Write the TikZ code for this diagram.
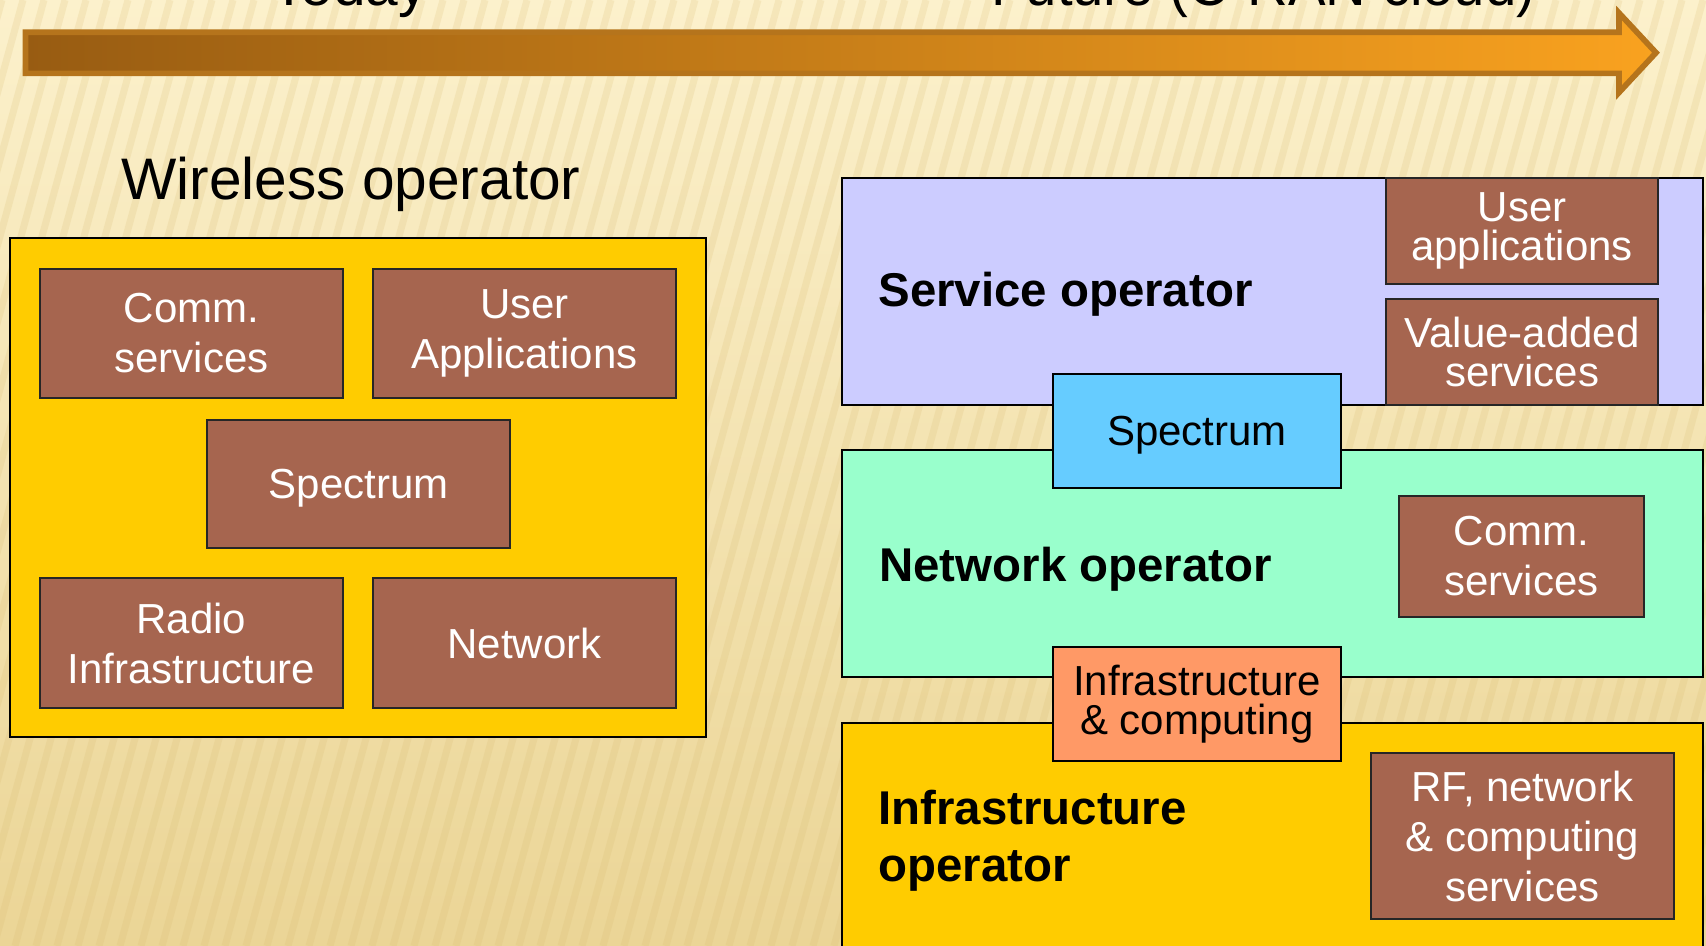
\documentclass[tikz,border=0pt]{standalone}
\usepackage{fontspec}
\setmainfont{Liberation Sans}
\newfontfamily\narrowfont{Liberation Sans}[FakeStretch=0.96]
\usetikzlibrary{fit}

\definecolor{bgtop}{HTML}{FCF1CC}
\definecolor{bgbot}{HTML}{EBD596}
\definecolor{stripe}{HTML}{D6B86C}
\definecolor{arrowedge}{HTML}{B5741C}
\definecolor{arrowdark}{HTML}{985C12}
\definecolor{arrowlight}{HTML}{F9A21F}
\definecolor{gold}{HTML}{FFCC00}
\definecolor{brick}{HTML}{A6654F}
\definecolor{lavender}{HTML}{CCCCFF}
\definecolor{mint}{HTML}{99FFCC}
\definecolor{sky}{HTML}{66CCFF}
\definecolor{salmon}{HTML}{FF9966}

\tikzset{
  boxsize/.style 2 args={minimum width={#1*0.5pt}, minimum height={#2*0.5pt}},
  panel/.style={draw=black, line width=1pt, inner sep=0pt},
  brickbox/.style={draw=black!85, line width=1.2pt, fill=brick, text=white,
    inner sep=0pt, align=center, font=\fontsize{21}{25}\selectfont},
  layerbox/.style={draw=black, line width=1.2pt, inner sep=0pt, align=center,
    font=\fontsize{21}{25}\selectfont},
  tightlines/.style={font=\fontsize{21}{19.75}\selectfont},
  oneline/.style={text depth=0pt},
  rolelabel/.style={inner sep=0pt, align=left,
    font=\fontsize{23.7}{28.5}\selectfont\bfseries},
  heading/.style={inner sep=0pt, font=\fontsize{29.3}{34}\selectfont},
}

\begin{document}
\begin{tikzpicture}[x=0.5pt, y=-0.5pt]
\useasboundingbox (0,0) rectangle (1706,946);
\clip (0,0) rectangle (1706,946);

% striped paper background
\shade[top color=bgtop, bottom color=bgbot] (0,0) rectangle (1706,946);
\foreach \s in {-300,-279,...,1800}
  \draw[stripe, opacity=0.18, line width=3.5pt] (\s,946) -- ({\s+260},0);

% timeline headings (cut by the top edge)
\node[heading, anchor=base west] (today) at (271,6) {Today};
\node[heading, font=\narrowfont\fontsize{29.3}{34}\selectfont,
  anchor=base west] (future) at (991,6) {Future (C-RAN cloud)};

% timeline arrow
\shadedraw[left color=arrowdark, right color=arrowlight, draw=arrowedge,
  line width=2.85pt, line join=miter]
  (25.5,32.2) -- (1619,32.2) -- (1619,13) -- (1656,52.7) -- (1619,92.5)
  -- (1619,73.4) -- (25.5,73.4) -- cycle;

% ---- today: one wireless operator ----
\node[heading, anchor=base west] (wtitle) at (121,200) {Wireless operator};
\node[panel, fill=gold, fit={(10,238) (706,737)}] (wireless) {};
\node[brickbox, boxsize={303}{129}] (lcomm) at (191.5,333.5) {Comm.\\services};
\node[brickbox, boxsize={303}{129}] (lapps) at (524.5,333.5) {User\\Applications};
\node[brickbox, oneline, boxsize={303}{128}] (lspec) at (358.5,484) {Spectrum};
\node[brickbox, boxsize={303}{130}] (lradio) at (191.5,643) {Radio\\Infrastructure};
\node[brickbox, boxsize={303}{130}] (lnet) at (524.5,643) {Network};

% ---- future: three layered operators ----
\node[panel, fill=lavender, fit={(842,178) (1703,405)}] (service) {};
\node[rolelabel, anchor=base west] (servicelbl) at (878,306.5) {Service operator};
\node[brickbox, tightlines, boxsize={272}{106}] (rapps) at (1522,231) {User\\applications};
\node[brickbox, tightlines, boxsize={272}{106}] (rvas) at (1522,352) {Value-added\\services};

\node[panel, fill=mint, fit={(842,450) (1703,677)}] (network) {};
\node[rolelabel, anchor=base west] (networklbl) at (879,581) {Network operator};
\node[brickbox, boxsize={245}{121}] (rcomm) at (1521.5,556.5) {Comm.\\services};

\node[panel, fill=gold, fit={(842,723) (1703,970)}] (infra) {};
\node[rolelabel, anchor=west] (infralbl) at (878,841) {Infrastructure\\operator};
\node[brickbox, boxsize={303}{166}] (rrf) at (1522.5,836) {RF, network\\\& computing\\services};

\node[layerbox, oneline, fill=sky, boxsize={288}{114}] (rspec) at (1197,431) {Spectrum};
\node[layerbox, tightlines, fill=salmon, boxsize={288}{114}] (rinfra) at (1197,704)
  {Infrastructure\\\& computing};
\end{tikzpicture}
\end{document}
